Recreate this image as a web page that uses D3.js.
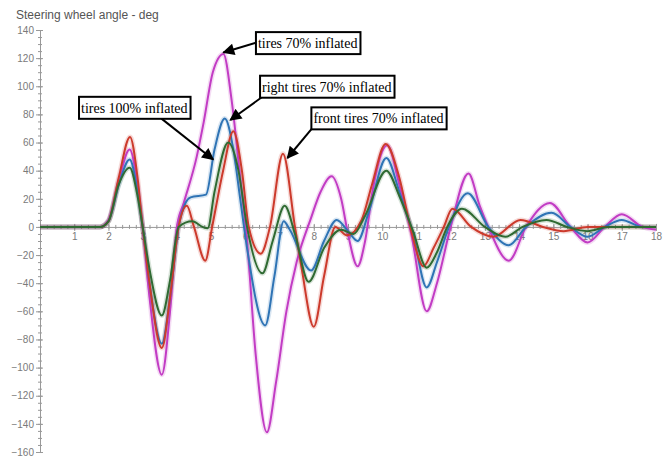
<!DOCTYPE html>
<html>
<head>
<meta charset="utf-8">
<script src="https://cdn.jsdelivr.net/npm/d3@7"></script>
<style>
  body { margin: 0; background: #fff; }
  .axis path, .axis line { stroke: #999; }
  .axis text { fill: #7a7a7a; font-family: "Liberation Sans", Arial, sans-serif; font-size: 10px; }
</style>
</head>
<body>
<div id="chart"></div>
<script>
// [time s, steering angle deg]
let tires70 = [[0,0],[1.75,0],[2.0,5],[2.3,33],[2.62,55],[2.85,30],[3.0,0],[3.2,-50],[3.56,-105],[3.8,-60],[4.0,0],[4.2,17],[4.58,50],[4.78,74],[5.05,110],[5.36,123],[5.6,90],[5.85,35],[6.05,-10],[6.3,-90],[6.63,-146],[6.9,-110],[7.2,-60],[7.5,-25],[7.9,5],[8.2,25],[8.52,36],[8.8,20],[9.0,-5],[9.28,-28],[9.5,-10],[9.75,30],[10.15,58],[10.5,30],[10.85,-5],[11.3,-60],[11.6,-40],[12.0,0],[12.52,38],[12.85,15],[13.1,0],[13.7,-24],[14.2,0],[14.9,17],[15.5,0],[16.0,-11],[16.5,0],[17.0,9],[17.6,0],[18,-2]];
let rightTires70 = [[0,0],[1.75,0],[2.0,4],[2.3,30],[2.62,48],[2.85,25],[3.0,0],[3.2,-40],[3.56,-83],[3.8,-50],[4.05,0],[4.25,17],[4.4,21],[4.85,23],[5.1,55],[5.4,77],[5.65,55],[5.85,20],[6.05,-15],[6.58,-70],[6.85,-35],[7.12,4],[7.3,-2],[7.92,-31],[8.3,-10],[8.67,5],[9.0,-3],[9.28,-10],[9.6,10],[10.12,49],[10.5,25],[10.9,-5],[11.3,-43],[11.6,-25],[11.95,0],[12.5,24],[13.1,0],[13.7,-13],[14.2,0],[14.95,10],[15.5,0],[16.0,-7],[16.5,0],[17.0,5],[17.6,0],[18,0]];
let frontTires70 = [[0,0],[1.75,0],[2.0,4],[2.3,35],[2.63,64],[2.85,35],[3.0,0],[3.2,-40],[3.56,-86],[3.8,-50],[4.05,0],[4.29,15],[4.5,0],[4.83,-24],[5.03,0],[5.35,40],[5.65,68],[5.9,40],[6.1,0],[6.45,-19],[6.72,0],[7.1,52],[7.45,0],[7.65,-30],[8.0,-71],[8.3,-35],[8.63,0],[8.97,-6],[9.4,5],[9.7,30],[10.1,59],[10.5,35],[10.85,-3],[11.2,-28],[11.5,-15],[11.8,0],[12.05,13],[12.6,0],[13.25,-7],[14.04,5],[14.7,0],[15.3,-3],[16,0],[18,0]];
let tires100 = [[0,0],[1.75,0],[2.0,4],[2.3,30],[2.62,42],[2.85,22],[3.0,0],[3.2,-30],[3.56,-63],[3.8,-38],[4.05,0],[4.45,4],[4.75,0],[4.9,-1],[5.1,25],[5.5,60],[5.8,40],[6.05,0],[6.5,-33],[6.8,-10],[7.15,15],[7.45,-5],[7.85,-39],[8.3,-15],[8.8,-2],[9.16,-5],[9.5,8],[10.12,40],[10.5,22],[10.9,-3],[11.3,-29],[11.6,-18],[11.9,0],[12.33,13],[13.0,0],[13.6,-7],[14.1,0],[14.8,5],[15.4,0],[16.0,-3],[16.6,0],[18,0]];

let seriesNames = ["tires 70% inflated", "right tires 70% inflated", "front tires 70% inflated", "tires 100% inflated"];
let seriesData = [tires70, rightTires70, frontTires70, tires100];
let seriesColors = ["#c23cc4", "#2f74b5", "#cc3a2c", "#2f6a32"];

let yTicks = d3.range(-160, 141, 20);
let xTicks = d3.range(1, 19);

// annotation: label, box top-left [t, v], arrow start [t, v], arrow tip [t, v]
let notes = [
  { label: "tires 70% inflated",       box: [6.31, 138.5], from: [6.31, 131], to: [5.36, 124] },
  { label: "right tires 70% inflated", box: [6.43, 107.5], from: [6.47, 92], to: [5.56, 76] },
  { label: "front tires 70% inflated", box: [7.93, 85],    from: [7.95, 70], to: [7.23, 49] },
  { label: "tires 100% inflated",      box: [1.14, 92.5],  from: [3.55, 77], to: [5.06, 48] }
];

let dim = { width: 666, height: 459, left: 40, right: 10, top: 30, bottom: 7 };

let x = d3.scaleLinear().domain([0, 18]).range([dim.left, dim.width - dim.right]);
let y = d3.scaleLinear().domain([-160, 140]).range([dim.height - dim.bottom, dim.top]);

let svg = d3.select("#chart").append("svg")
    .attr("width", dim.width)
    .attr("height", dim.height);

svg.append("defs").append("marker")
    .attr("id", "arrow")
    .attr("viewBox", "0 0 10 10")
    .attr("refX", 9).attr("refY", 5)
    .attr("markerWidth", 7).attr("markerHeight", 6)
    .attr("markerUnits", "strokeWidth")
    .attr("orient", "auto")
  .append("path")
    .attr("d", "M0,0L10,5L0,10z")
    .attr("fill", "#000");

svg.append("text")
    .attr("x", 16).attr("y", 19)
    .attr("fill", "#555")
    .style("font-family", "Liberation Sans, Arial, sans-serif")
    .style("font-size", "12px")
    .text("Steering wheel angle - deg");

// y axis, minor then major
svg.append("g")
    .attr("class", "axis")
    .attr("transform", "translate(" + x(0) + ",0)")
    .call(d3.axisLeft(y).tickValues(d3.range(-160, 141, 5)).tickFormat("").tickSize(2).tickSizeOuter(0))
    .call(g => g.selectAll(".tick line").attr("x1", 2));

svg.append("g")
    .attr("class", "axis")
    .attr("transform", "translate(" + x(0) + ",0)")
    .call(d3.axisLeft(y).tickValues(yTicks).tickSize(4).tickPadding(2).tickSizeOuter(0))
    .call(g => g.selectAll(".tick line").attr("x1", 3));

// x axis through zero
svg.append("g")
    .attr("class", "axis")
    .attr("transform", "translate(0," + y(0) + ")")
    .call(d3.axisBottom(x).tickValues(d3.range(0, 18.01, 0.2)).tickFormat("").tickSize(2).tickSizeOuter(0))
    .call(g => g.selectAll(".tick line").attr("y1", -2));

svg.append("g")
    .attr("class", "axis")
    .attr("transform", "translate(0," + y(0) + ")")
    .call(d3.axisBottom(x).tickValues(xTicks).tickSize(4).tickPadding(2).tickSizeOuter(0))
    .call(g => g.select(".domain").remove())
    .call(g => g.selectAll(".tick line").attr("y1", -3));

let line = d3.line()
    .x(d => x(d[0]))
    .y(d => y(d[1]))
    .curve(d3.curveMonotoneX);

let lines = svg.append("g");

seriesData.forEach((s, i) => {
  lines.append("path")
      .datum(s)
      .attr("fill", "none")
      .attr("stroke", seriesColors[i])
      .attr("stroke-opacity", 0.18)
      .attr("stroke-width", 5)
      .attr("d", line);
});

seriesData.forEach((s, i) => {
  lines.append("path")
      .datum(s)
      .attr("class", "series")
      .attr("fill", "none")
      .attr("stroke", seriesColors[i])
      .attr("stroke-width", 2)
      .attr("stroke-linejoin", "round")
      .attr("d", line)
    .append("title").text(seriesNames[i]);
});

// callouts
let note = svg.append("g").selectAll("g")
    .data(notes)
    .join("g");

note.append("line")
    .attr("x1", d => x(d.from[0])).attr("y1", d => y(d.from[1]))
    .attr("x2", d => x(d.to[0])).attr("y2", d => y(d.to[1]))
    .attr("stroke", "#000")
    .attr("stroke-width", 2)
    .attr("marker-end", "url(#arrow)");

note.each(function(d) {
  let g = d3.select(this);
  let rect = g.append("rect")
      .attr("x", x(d.box[0]))
      .attr("y", y(d.box[1]))
      .attr("height", 22)
      .attr("fill", "#fff")
      .attr("stroke", "#000")
      .attr("stroke-width", 2);
  let t = g.append("text")
      .attr("x", x(d.box[0]) + 2)
      .attr("y", y(d.box[1]) + 16)
      .style("font-family", "Liberation Serif, Times New Roman, serif")
      .style("font-size", "14px")
      .attr("fill", "#000")
      .text(d.label);
  rect.attr("width", t.node().getComputedTextLength() + 5);
});
</script>
</body>
</html>
